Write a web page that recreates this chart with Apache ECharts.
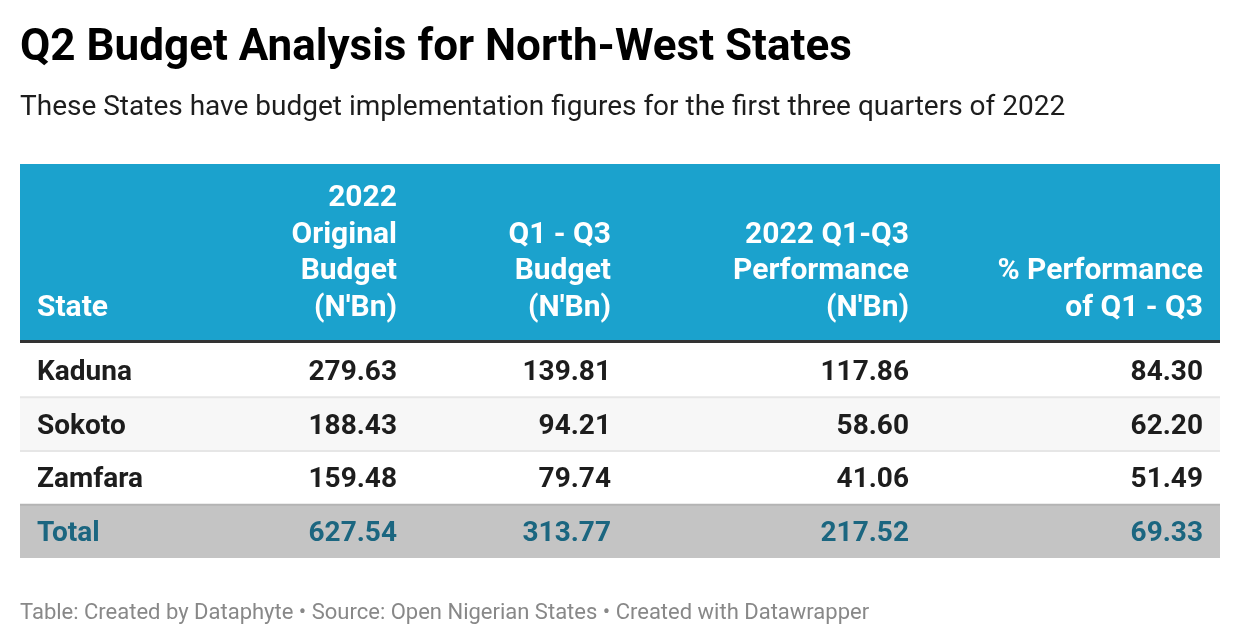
<!DOCTYPE html>
<html>
<head>
<meta charset="utf-8">
<script src="https://cdn.jsdelivr.net/npm/echarts@6/dist/echarts.min.js"></script>
<style>
html,body{margin:0;padding:0;background:#fff;}
#chart{width:1240px;height:644px;}
</style>
</head>
<body>
<div id="chart"></div>
<script>
// ---- data ----
const states = ['Kaduna', 'Sokoto', 'Zamfara'];
const originalBudget = [279.63, 188.43, 159.48];
const q1q3Budget = [139.81, 94.21, 79.74];
const q1q3Performance = [117.86, 58.60, 41.06];
const pctPerformance = [84.30, 62.20, 51.49];
const totalLabel = 'Total';
const totals = [627.54, 313.77, 217.52, 69.33];
const headers = [
  ['State'],
  ['2022', 'Original', 'Budget', "(N'Bn)"],
  ['Q1 - Q3', 'Budget', "(N'Bn)"],
  ['2022 Q1-Q3', 'Performance', "(N'Bn)"],
  ['% Performance', 'of Q1 - Q3']
];
const titleText = 'Q2 Budget Analysis for North-West States';
const subtitleText = 'These States have budget implementation figures for the first three quarters of 2022';
const footerText = 'Table: Created by Dataphyte \u2022 Source: Open Nigerian States \u2022 Created with Datawrapper';

// ---- layout (styles, not data) ----
const FONT = 'Roboto';
const colAnchor = [17, 377, 591, 889, 1183]; // x in table units (0..1200)
const colAlign = ['left', 'right', 'right', 'right', 'right'];

const rowCategories = states.concat([totalLabel]);
const columns = [originalBudget, q1q3Budget, q1q3Performance, pctPerformance];

const chart = echarts.init(document.getElementById('chart'), null, {renderer: 'canvas'});

function headerItem(params, api) {
  const cs = params.coordSys;
  const children = [];
  children.push({type: 'rect', shape: {x: cs.x, y: cs.y, width: cs.width, height: cs.height}, style: {fill: '#1ba2cd'}});
  children.push({type: 'rect', shape: {x: cs.x, y: cs.y + cs.height, width: cs.width, height: 3}, style: {fill: '#333333'}});
  const bottom = cs.y + cs.height;
  headers.forEach((lines, c) => {
    const px = api.coord([colAnchor[c], 0])[0];
    lines.forEach((ln, k) => {
      const y = bottom - 32 - (lines.length - 1 - k) * 36.4;
      children.push({type: 'text', style: {x: px, y: y, text: ln, fill: '#ffffff', font: 'bold 30px ' + FONT, align: colAlign[c], verticalAlign: 'middle'}});
    });
  });
  return {type: 'group', children: children};
}

function bodyItem(params, api) {
  const r = api.value(0);
  const cs = params.coordSys;
  const center = api.coord([0, r]);
  const h = api.size([0, 1])[1];
  const top = center[1] - h / 2;
  const isTotal = r === states.length;
  const children = [];
  let bg = '#ffffff';
  if (isTotal) bg = '#c4c4c4';
  else if (r % 2 === 1) bg = '#f7f7f7';
  children.push({type: 'rect', shape: {x: cs.x, y: top, width: cs.width, height: h}, style: {fill: bg}});
  if (r > 0) {
    children.push({type: 'rect', shape: {x: cs.x, y: top - 0.5, width: cs.width, height: 2}, style: {fill: isTotal ? '#b4b4b4' : '#e6e6e6'}});
  }
  const color = isTotal ? '#1b6680' : '#1d1d1d';
  const texts = [rowCategories[r]];
  columns.forEach((col, c) => {
    texts.push((isTotal ? totals[c] : col[r]).toFixed(2));
  });
  texts.forEach((t, c) => {
    const px = api.coord([colAnchor[c], r])[0];
    children.push({type: 'text', style: {x: px, y: center[1] + 3, text: t, fill: color, font: 'bold 28px ' + FONT, align: colAlign[c], verticalAlign: 'middle'}});
  });
  return {type: 'group', children: children};
}

const option = {
  backgroundColor: '#ffffff',
  animation: false,
  title: [
    {text: titleText, left: 15, top: 22, textStyle: {fontFamily: FONT, fontWeight: 'bold', fontSize: 44, color: '#000000'}},
    {text: subtitleText, left: 15, top: 89, textStyle: {fontFamily: FONT, fontWeight: 'normal', fontSize: 28, color: '#1d1d1d'}},
    {text: footerText, left: 15, top: 597, textStyle: {fontFamily: FONT, fontWeight: 'normal', fontSize: 22, color: '#888888'}}
  ],
  grid: [
    {left: 20, width: 1200, top: 164, height: 176},
    {left: 20, width: 1200, top: 343, height: 215}
  ],
  xAxis: [
    {type: 'value', gridIndex: 0, min: 0, max: 1200, show: false},
    {type: 'value', gridIndex: 1, min: 0, max: 1200, show: false}
  ],
  yAxis: [
    {type: 'category', gridIndex: 0, data: ['header'], show: false},
    {type: 'category', gridIndex: 1, data: rowCategories, inverse: true, show: false}
  ],
  series: [
    {type: 'custom', xAxisIndex: 0, yAxisIndex: 0, renderItem: headerItem, data: [[0, 0]], encode: {x: 1, y: 0}, silent: true},
    {type: 'custom', xAxisIndex: 1, yAxisIndex: 1, renderItem: bodyItem, data: rowCategories.map((_, i) => [i, 0]), encode: {x: 1, y: 0}, silent: true}
  ]
};
chart.setOption(option);
</script>
</body>
</html>
